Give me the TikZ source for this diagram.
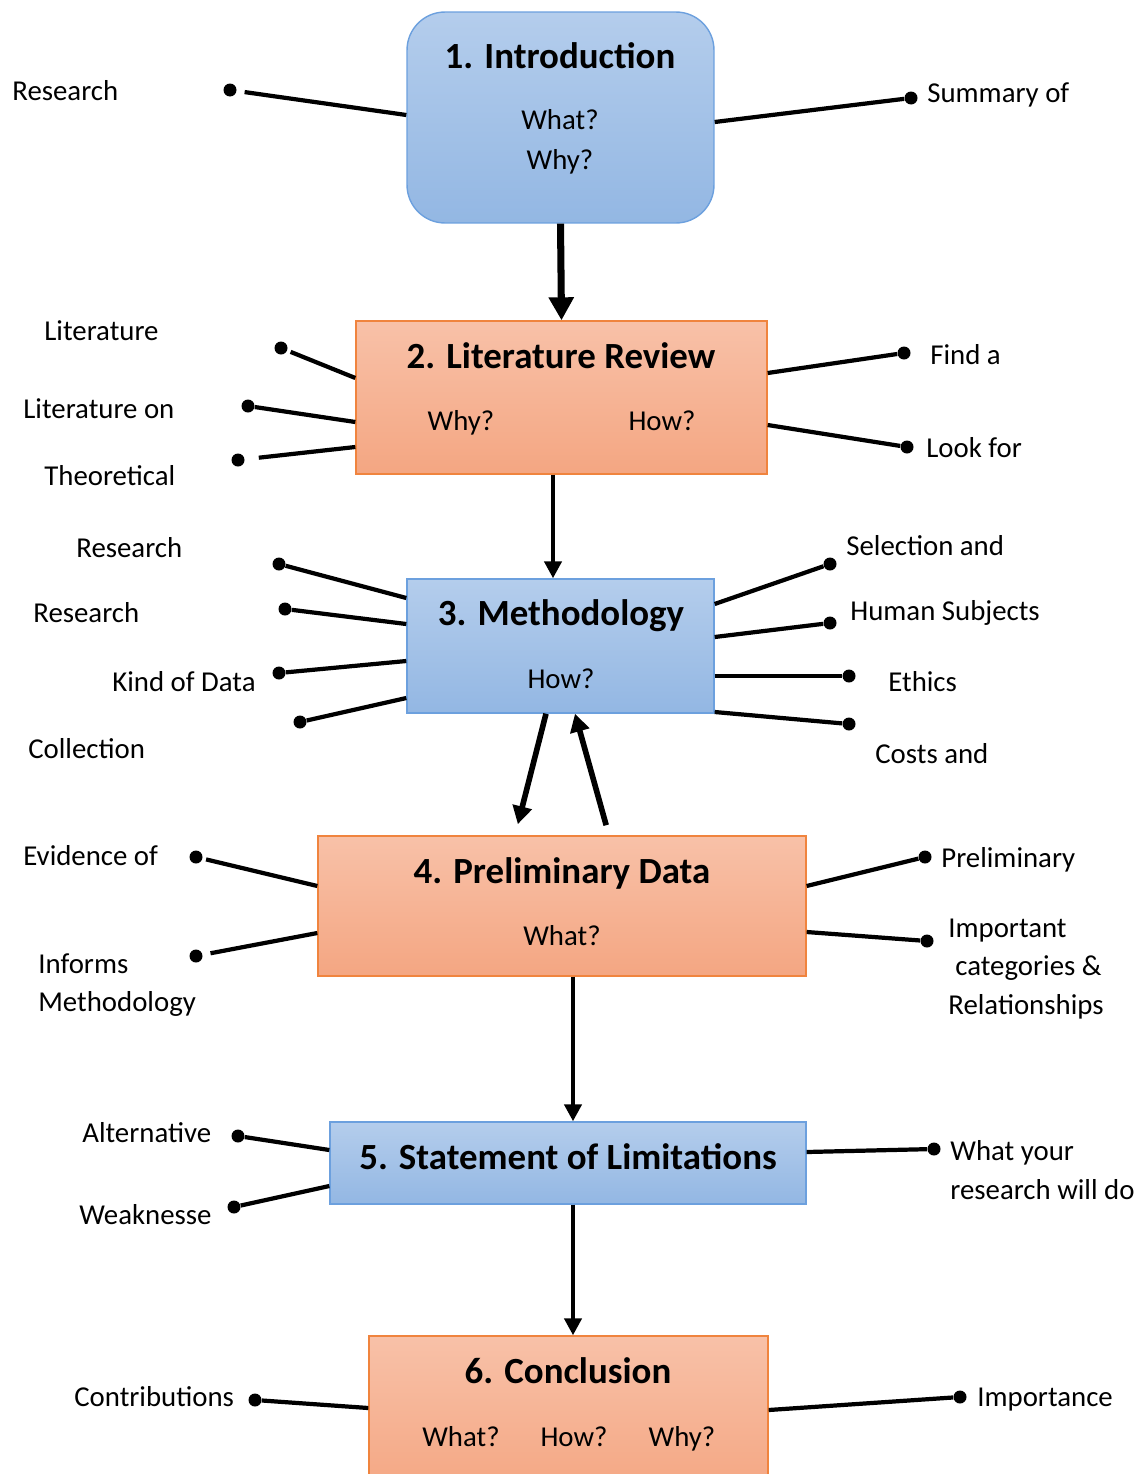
\documentclass[tikz,border=0pt]{standalone}
\usepackage{fontspec}
\setmainfont{Carlito}
\usepackage{tikz}
\usetikzlibrary{arrows.meta}

\definecolor{blueTop}{RGB}{180,205,236}
\definecolor{blueBot}{RGB}{147,183,227}
\definecolor{blueLine}{RGB}{108,160,222}
\definecolor{orTop}{RGB}{248,193,168}
\definecolor{orBot}{RGB}{244,166,130}
\definecolor{orLine}{RGB}{240,132,62}

\tikzset{
  bluebox/.style={draw=blueLine, top color=blueTop, bottom color=blueBot, line width=0.8pt, inner sep=0pt},
  orbox/.style={draw=orLine, top color=orTop, bottom color=orBot, line width=0.8pt, inner sep=0pt},
  title/.style={font=\fontsize{21}{25}\selectfont\bfseries, inner sep=0pt, text height=0.65em, text depth=0pt, yshift=-0.12cm},
  ask/.style={font=\fontsize{16.4}{22}\selectfont, inner sep=0pt, text height=0.65em, text depth=0pt, yshift=-0.08cm},
  lab/.style={ask, anchor=west},
  labs/.style={font=\fontsize{16.4}{22}\selectfont, inner sep=0pt, align=left, anchor=west, yshift=-0.06cm},
  endpt/.style={circle, fill=black, inner sep=0pt, minimum size=0.26cm},
  link/.style={line width=2.4pt},
  bigflow/.style={line width=4pt, -{Triangle[length=0.46cm,width=0.48cm]}},
  flow/.style={line width=2.6pt, -{Triangle[length=0.34cm,width=0.34cm]}},
  backflow/.style={line width=3.2pt, -{Triangle[length=0.36cm,width=0.38cm]}}
}

\begin{document}
\begin{tikzpicture}[x=0.02cm, y=-0.02cm]
\useasboundingbox (0,0) rectangle (1147,1474);

% boxes
\node[bluebox, rounded corners=0.76cm, minimum width=6.14cm, minimum height=4.22cm] (intro) at (560.5,117.5) {};
\node[orbox, minimum width=8.22cm, minimum height=3.06cm] (lit) at (561.5,397.5) {};
\node[bluebox, minimum width=6.14cm, minimum height=2.68cm] (meth) at (560.5,646) {};
\node[orbox, minimum width=9.76cm, minimum height=2.8cm] (prelim) at (562,906) {};
\node[bluebox, minimum width=9.52cm, minimum height=1.64cm] (limit) at (568,1163) {};
\node[orbox, minimum width=7.98cm, minimum height=3.2cm] (concl) at (568.5,1416) {};

\node[title] (t-intro) at (560,57) {1. Introduction};
\node[ask] (q-intro-what) at (560,120) {What?};
\node[ask] (q-intro-why) at (560,160) {Why?};
\node[title] (t-lit) at (561,357) {2. Literature Review};
\node[ask] (q-lit-why) at (461,421) {Why?};
\node[ask] (q-lit-how) at (662,421) {How?};
\node[title] (t-meth) at (561,614) {3. Methodology};
\node[ask] (q-meth-how) at (561,679) {How?};
\node[title] (t-prelim) at (562,872) {4. Preliminary Data};
\node[ask] (q-prelim-what) at (562,936) {What?};
\node[title] (t-limit) at (568,1158) {5. Statement of Limitations};
\node[title] (t-concl) at (568,1372) {6. Conclusion};
\node[ask] (q-concl-what) at (461,1437) {What?};
\node[ask] (q-concl-how) at (574,1437) {How?};
\node[ask] (q-concl-why) at (682,1437) {Why?};

% main flow
\draw[bigflow] (intro.south) -- (lit.north);
\draw[flow] (lit.south -| 553,0) -- (meth.north -| 553,0);
\draw[backflow, shorten >=0.23cm] (meth.south -| 546,0) -- (prelim.north -| 515,0);
\draw[backflow, shorten <=0.21cm] (prelim.north -| 609,0) -- (meth.south -| 575,0);
\draw[flow] (prelim.south -| 573,0) -- (limit.north -| 573,0);
\draw[flow] (limit.south -| 573,0) -- (concl.north -| 573,0);

% side notes
\node[lab] (n-research) at (12,91) {Research};
\node[lab] (n-summary) at (927,93) {Summary of};
\node[endpt] (d-research) at (230,90) {};
\node[endpt] (d-summary) at (911,98) {};
\draw[link, shorten >=4.5pt] (intro.west |- 0,115) -- (d-research);
\draw[link] (intro.east |- 0,122) -- (d-summary);

\node[lab] (n-lit) at (44,331) {Literature};
\node[lab] (n-liton) at (23,409) {Literature on};
\node[lab] (n-theory) at (44,476) {Theoretical};
\node[lab] (n-find) at (930,355) {Find a};
\node[lab] (n-look) at (926,448) {Look for};
\node[endpt] (d-lit) at (281,348) {};
\node[endpt] (d-liton) at (248,406) {};
\node[endpt] (d-theory) at (238,460) {};
\node[endpt] (d-find) at (904,353) {};
\node[endpt] (d-look) at (907,447) {};
\draw[link, shorten >=2pt] (lit.west |- 0,378) -- (d-lit);
\draw[link] (lit.west |- 0,422) -- (d-liton);
\draw[link, shorten >=8pt] (lit.west |- 0,447) -- (d-theory);
\draw[link] (lit.east |- 0,373) -- (d-find);
\draw[link] (lit.east |- 0,425) -- (d-look);

\node[lab] (n-design) at (76,548) {Research};
\node[lab] (n-question) at (33,613) {Research};
\node[lab] (n-kind) at (112,682) {Kind of Data};
\node[lab] (n-collect) at (28,749) {Collection};
\node[lab] (n-select) at (846,546) {Selection and};
\node[lab] (n-human) at (850,611) {Human Subjects};
\node[lab] (n-ethics) at (888,682) {Ethics};
\node[lab] (n-costs) at (875,754) {Costs and};
\node[endpt] (d-design) at (279,564) {};
\node[endpt] (d-question) at (285,609) {};
\node[endpt] (d-kind) at (279,673) {};
\node[endpt] (d-collect) at (300,722) {};
\node[endpt] (d-select) at (830,564) {};
\node[endpt] (d-human) at (830,623) {};
\node[endpt] (d-ethics) at (849,676) {};
\node[endpt] (d-costs) at (849,724) {};
\draw[link] (meth.west |- 0,598) -- (d-design);
\draw[link] (meth.west |- 0,624) -- (d-question);
\draw[link] (meth.west |- 0,661) -- (d-kind);
\draw[link] (meth.west |- 0,698) -- (d-collect);
\draw[link] (meth.east |- 0,604) -- (d-select);
\draw[link] (meth.east |- 0,637) -- (d-human);
\draw[link] (meth.east |- 0,676) -- (d-ethics);
\draw[link] (meth.east |- 0,712) -- (d-costs);

\node[lab] (n-evidence) at (23,856) {Evidence of};
\node[labs] (n-informs) at (38,982) {Informs\\Methodology};
\node[lab] (n-prelim) at (941,858) {Preliminary};
\node[labs] (n-important) at (948,966) {Important\\\hspace*{4pt}categories \&\\Relationships};
\node[endpt] (d-evidence) at (196,857) {};
\node[endpt] (d-informs) at (196,956) {};
\node[endpt] (d-prelim) at (925,857) {};
\node[endpt] (d-important) at (927,941) {};
\draw[link, shorten >=2pt] (prelim.west |- 0,886) -- (d-evidence);
\draw[link, shorten >=4.5pt] (prelim.west |- 0,933) -- (d-informs);
\draw[link] (prelim.east |- 0,886) -- (d-prelim);
\draw[link] (prelim.east |- 0,932) -- (d-important);

\node[lab] (n-alt) at (82,1133) {Alternative};
\node[lab] (n-weak) at (79,1215) {Weaknesse};
\node[labs] (n-will) at (950,1167) {What your\\research will do};
\node[endpt] (d-alt) at (238,1136) {};
\node[endpt] (d-weak) at (234,1207) {};
\node[endpt] (d-will) at (934,1149) {};
\draw[link] (limit.west |- 0,1150) -- (d-alt);
\draw[link] (limit.west |- 0,1186) -- (d-weak);
\draw[link] (limit.east |- 0,1152) -- (d-will);

\node[lab] (n-contrib) at (74,1397) {Contributions};
\node[lab] (n-import) at (977,1397) {Importance};
\node[endpt] (d-contrib) at (255,1400) {};
\node[endpt] (d-import) at (960,1397) {};
\draw[link] (concl.west |- 0,1408) -- (d-contrib);
\draw[link] (concl.east |- 0,1410) -- (d-import);
\end{tikzpicture}
\end{document}
